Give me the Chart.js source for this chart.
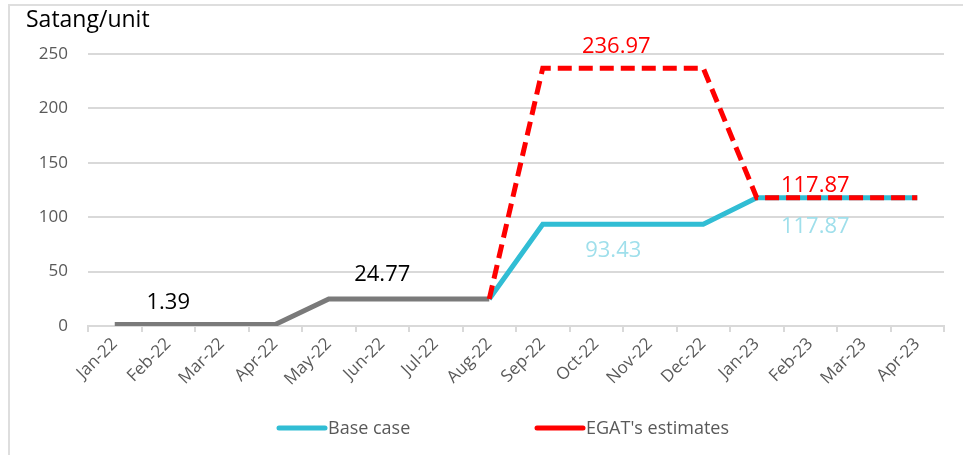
<!DOCTYPE html>
<html>
<head>
<meta charset="utf-8">
<script src="https://cdn.jsdelivr.net/npm/chart.js@4.4.1/dist/chart.umd.min.js"></script>
<style>
  body { margin: 0; background: #fff; }
  #wrap { position: relative; width: 963px; height: 455px; }
  #frame { position: absolute; left: 8px; top: 4px; right: 0; bottom: 0; border-top: 2px solid #dedede; border-left: 2px solid #dedede; }
  #chart { position: absolute; left: 0; top: 0; }
</style>
</head>
<body>
<div id="wrap">
  <div id="frame"></div>
  <canvas id="chart" width="963" height="455"></canvas>
</div>
<script>
const months = ['Jan-22', 'Feb-22', 'Mar-22', 'Apr-22', 'May-22', 'Jun-22', 'Jul-22', 'Aug-22',
                'Sep-22', 'Oct-22', 'Nov-22', 'Dec-22', 'Jan-23', 'Feb-23', 'Mar-23', 'Apr-23'];
const actual = [1.39, 1.39, 1.39, 1.39, 24.77, 24.77, 24.77, 24.77, null, null, null, null, null, null, null, null];
const baseCase = [null, null, null, null, null, null, null, 24.77, 93.43, 93.43, 93.43, 93.43, 117.87, 117.87, 117.87, 117.87];
const egatEstimates = [null, null, null, null, null, null, null, 24.77, 236.97, 236.97, 236.97, 236.97, 117.87, 117.87, 117.87, 117.87];
const yMin = 0, yMax = 250, yStep = 50;
const unitLabel = 'Satang/unit';

const FONT = '"Open Sans", sans-serif';

// value labels, title and legend drawn on the canvas
const annotatePlugin = {
    id: 'annotate',
    afterDatasetsDraw(chart, args, opts) {
        const ctx = chart.ctx;
        ctx.save();
        ctx.textAlign = 'center';
        ctx.textBaseline = 'middle';
        ctx.font = '22px ' + FONT;
        opts.labels.forEach(l => {
            const pt = chart.getDatasetMeta(l.ds).data[l.i];
            const v = chart.data.datasets[l.ds].data[l.i];
            ctx.fillStyle = l.color;
            ctx.fillText(v.toFixed(2), pt.x + l.dx, pt.y + l.dy);
        });

        // axis unit title
        ctx.textAlign = 'left';
        ctx.fillStyle = '#000';
        ctx.font = '23px ' + FONT;
        ctx.fillText(unitLabel, 26, 20);

        // legend
        ctx.font = '18px ' + FONT;
        opts.legend.forEach(item => {
            const ds = chart.data.datasets[item.ds];
            ctx.strokeStyle = ds.borderColor;
            ctx.lineWidth = 5;
            ctx.lineCap = 'round';
            ctx.beginPath();
            ctx.moveTo(item.x, opts.legendY);
            ctx.lineTo(item.x + 46, opts.legendY);
            ctx.stroke();
            ctx.fillStyle = '#595959';
            ctx.fillText(ds.label, item.x + 49, opts.legendY + 1);
        });
        ctx.restore();
    }
};

const ctx = document.getElementById('chart').getContext('2d');
new Chart(ctx, {
    type: 'line',
    data: {
        labels: months,
        datasets: [
            {
                label: 'Actual',
                data: actual,
                borderColor: '#7a7a7a',
                borderWidth: 5,
                pointRadius: 0,
                order: 3
            },
            {
                label: 'Base case',
                data: baseCase,
                borderColor: '#31bdd4',
                borderWidth: 5,
                pointRadius: 0,
                order: 2
            },
            {
                label: "EGAT's estimates",
                data: egatEstimates,
                borderColor: '#ff0000',
                borderWidth: 5,
                borderDash: [14, 7],
                pointRadius: 0,
                order: 1
            }
        ]
    },
    options: {
        responsive: false,
        animation: false,
        layout: { padding: { left: 8, top: 54, right: 19, bottom: 0 } },
        scales: {
            x: {
                offset: true,
                afterFit: (scale) => { scale.height = 129; },
                grid: { offset: true, drawOnChartArea: false, drawTicks: true, tickLength: 6, color: '#d9d9d9', lineWidth: 2 },
                border: { color: '#d9d9d9', width: 2 },
                ticks: {
                    autoSkip: false,
                    maxRotation: 45,
                    minRotation: 45,
                    padding: 2,
                    color: '#595959',
                    font: { family: FONT, size: 17 }
                }
            },
            y: {
                min: yMin,
                max: yMax,
                afterFit: (scale) => { scale.width = 80; },
                grid: { color: '#d9d9d9', lineWidth: 2, drawTicks: false },
                border: { display: false },
                ticks: {
                    stepSize: yStep,
                    padding: 20,
                    color: '#595959',
                    font: { family: FONT, size: 17 }
                }
            }
        },
        plugins: {
            legend: { display: false },
            tooltip: { enabled: false },
            annotate: {
                labels: [
                    { ds: 0, i: 1, dx: 0, dy: -22, color: '#000000' },
                    { ds: 0, i: 5, dx: 0, dy: -24, color: '#000000' },
                    { ds: 2, i: 9, dx: 20, dy: -21, color: '#ff0000' },
                    { ds: 1, i: 9, dx: 17, dy: 26, color: '#9fdfeb' },
                    { ds: 2, i: 13, dx: 5, dy: -12, color: '#ff0000' },
                    { ds: 1, i: 13, dx: 5, dy: 29, color: '#9fdfeb' }
                ],
                legend: [
                    { ds: 1, x: 279 },
                    { ds: 2, x: 537 }
                ],
                legendY: 428
            }
        }
    },
    plugins: [annotatePlugin]
});
</script>
</body>
</html>
